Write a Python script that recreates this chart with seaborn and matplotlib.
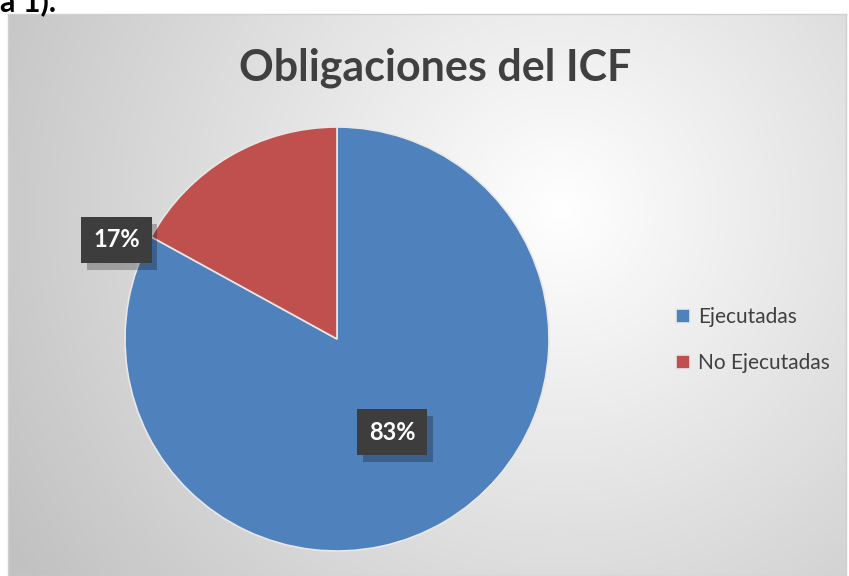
import numpy as np
import seaborn as sns
import matplotlib.pyplot as plt
import matplotlib.patheffects as pe

# data
categories = ['Ejecutadas', 'No Ejecutadas']
values = [83, 17]
colors = ['#4F81BD', '#C0504D']

sns.set_theme(style='white')
plt.rcParams['font.family'] = ['Lato', 'DejaVu Sans']

W, H = 849, 576
fig = plt.figure(figsize=(W / 100, H / 100), dpi=100)
fig.patch.set_facecolor('white')

# chart area with radial gradient
x0, y0, x1 = 8, 14, 846
bg = fig.add_axes([x0 / W, 0, (x1 - x0) / W, (H - y0) / H])
yy, xx = np.mgrid[y0:H, x0:x1]
d = np.sqrt((xx - 560) ** 2 + (yy - 210) ** 2)
g = 1 - np.clip(d / 640, 0, 1) * 0.24
bg.imshow(np.dstack([g, g, g]), aspect='auto', extent=[0, 1, 0, 1])
bg.set_xticks([])
bg.set_yticks([])
for s in bg.spines.values():
    s.set_color('#d0d0d0')
    s.set_linewidth(1)

# pie
cx, cy, r = 337, 339, 212
ax = fig.add_axes([(cx - r) / W, (H - cy - r) / H, 2 * r / W, 2 * r / H])
ax.set_facecolor('none')
wedges, texts, autotexts = ax.pie(
    values, colors=colors, startangle=90, counterclock=False,
    autopct='%1.0f%%', pctdistance=0.51,
    wedgeprops=dict(edgecolor='#e8e8e8', linewidth=1.2),
    textprops=dict(color='white', fontsize=17, fontweight='bold'))
ax.set_xlim(-1, 1)
ax.set_ylim(-1, 1)
autotexts[1].set_position((1.14 * np.cos(np.radians(155.8)), 1.14 * np.sin(np.radians(155.8))))
for t in autotexts:
    t.set_bbox(dict(boxstyle='square,pad=0.5', facecolor='#3d3d3d', edgecolor='none'))
    t.get_bbox_patch().set_path_effects([
        pe.SimplePatchShadow(offset=(4, -5), shadow_rgbFace='black', alpha=0.25),
        pe.Normal()])

# title
fig.text(435 / W, 1 - 68 / H, 'Obligaciones del ICF', ha='center', va='center',
         fontsize=31, fontweight='bold', color='#404040')

# legend
leg = fig.legend(wedges, categories, loc='center left', bbox_to_anchor=(676 / W, 1 - 340 / H),
                 frameon=False, fontsize=15, handlelength=0.65, handleheight=0.65,
                 handletextpad=0.4, labelspacing=1.25, borderpad=0, borderaxespad=0,
                 labelcolor='#404040')

# cut-off text from document above
fig.text(0, 1 - 2 / H, 'a 1).', ha='left', va='center', fontsize=22,
         fontweight='bold', color='black')

fig.savefig('out.png', dpi=100)
